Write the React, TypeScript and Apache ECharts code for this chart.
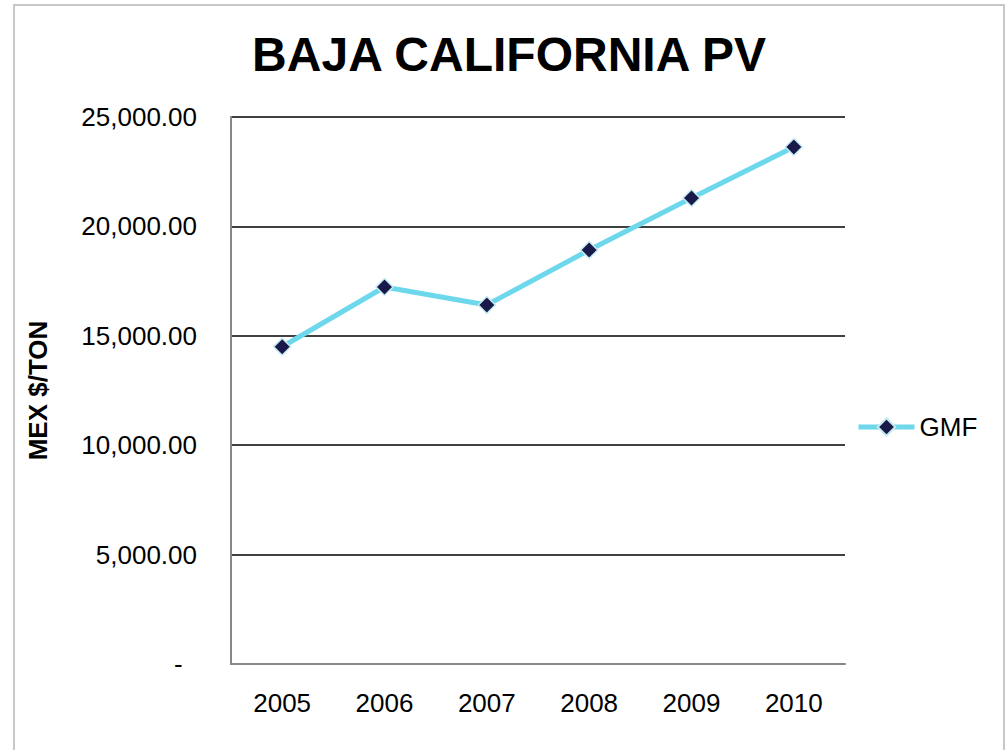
import React, { useEffect, useRef } from "react";
import * as echarts from "echarts";

const years = ["2005", "2006", "2007", "2008", "2009", "2010"];
const gmfValues = [14500, 17230, 16410, 18920, 21300, 23630];
const chartTitle = "BAJA CALIFORNIA PV";
const yAxisTitle = "MEX $/TON";
const seriesName = "GMF";

export default function App() {
  const ref = useRef<HTMLDivElement>(null);
  useEffect(() => {
    if (!ref.current) return;
    const chart = echarts.init(ref.current, null, { renderer: "svg" });
    chart.setOption({
      animation: false,
      backgroundColor: "#ffffff",
      textStyle: { fontFamily: "Liberation Sans, Arial, sans-serif" },
      graphic: [
        {
          type: "rect",
          shape: { x: 14, y: 5, width: 990, height: 760 },
          style: { fill: "none", stroke: "#c8c8c8", lineWidth: 2 },
          silent: true,
        },
      ],
      title: {
        text: chartTitle,
        left: 504,
        textAlign: "center",
        top: 25,
        textStyle: { fontSize: 48, fontWeight: "bold", color: "#000", fontFamily: "Liberation Sans, Arial, sans-serif" },
      },
      legend: {
        data: [seriesName],
        left: 851,
        top: 409,
        itemWidth: 56,
        itemHeight: 22,
        itemGap: 4,
        lineStyle: { width: 5, color: "#6dd7ec" },
        textStyle: { fontSize: 26, color: "#000", fontFamily: "Liberation Sans, Arial, sans-serif" },
      },
      grid: { left: 231, right: 160, top: 117, bottom: 86, containLabel: false },
      xAxis: {
        type: "category",
        data: years,
        boundaryGap: true,
        axisLine: { show: true, lineStyle: { color: "#888", width: 2 } },
        axisTick: { show: false },
        axisLabel: { fontSize: 26, color: "#000", margin: 26 },
        splitLine: { show: false },
      },
      yAxis: {
        type: "value",
        min: 0,
        max: 25000,
        interval: 5000,
        name: yAxisTitle,
        nameLocation: "middle",
        nameGap: 180,
        nameRotate: 90,
        nameTextStyle: { fontSize: 26, fontWeight: "bold", color: "#000" },
        axisLine: { show: true, lineStyle: { color: "#888", width: 2 } },
        axisTick: { show: false },
        axisLabel: {
          fontSize: 26,
          color: "#000",
          margin: 34,
          formatter: (v: number) =>
            v === 0 ? "-  " : v.toLocaleString("en-US", { minimumFractionDigits: 2, maximumFractionDigits: 2 }),
        },
        splitLine: { show: true, lineStyle: { color: "#000", width: 1.5 } },
      },
      series: [
        {
          name: seriesName,
          type: "line",
          data: gmfValues,
          symbol: "diamond",
          symbolSize: 17,
          lineStyle: { color: "#6dd7ec", width: 5 },
          itemStyle: { color: "#1a1a4a", borderColor: "#c6ebf0", borderWidth: 1.5 },
        },
      ],
    });
    return () => chart.dispose();
  }, []);
  return (
    <div
      ref={ref}
      style={{ position: "fixed", left: 0, top: 0, width: 1005, height: 750 }}
    />
  );
}
